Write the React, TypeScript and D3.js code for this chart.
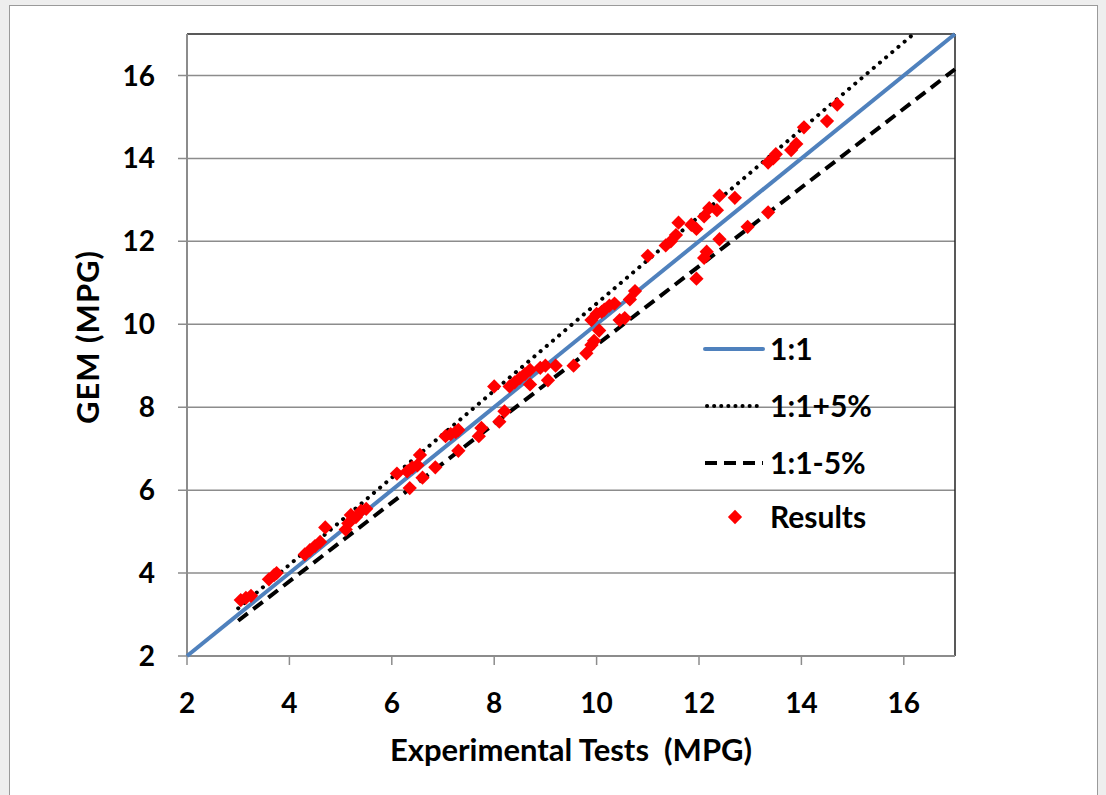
import React from "react";
import * as d3 from "d3";

// experimental (x) vs model (y), MPG
const expTests = [
  3.05, 3.15, 3.25, 3.6, 3.7, 3.75, 4.3, 4.4, 4.5, 4.6, 4.7,
  5.1, 5.15, 5.2, 5.3, 5.4, 5.5, 6.1, 6.3, 6.35, 6.4, 6.5, 6.55, 6.6, 6.85,
  7.05, 7.15, 7.25, 7.3, 7.3, 7.7, 7.75, 8.0, 8.1, 8.2, 8.3, 8.4, 8.5, 8.6,
  8.7, 8.7, 8.9, 9.0, 9.05, 9.2, 9.55, 9.8, 9.9, 9.95, 9.9, 10.0, 10.05,
  10.1, 10.15, 10.25, 10.35, 10.45, 10.55, 10.65, 10.75, 11.0, 11.35, 11.45,
  11.55, 11.6, 11.85, 11.95, 11.95, 12.1, 12.15, 12.1, 12.2, 12.35, 12.4,
  12.4, 12.7, 12.95, 13.35, 13.35, 13.45, 13.5, 13.8, 13.9, 14.05, 14.5, 14.7,
];
const gemResults = [
  3.35, 3.4, 3.45, 3.85, 3.95, 4.0, 4.45, 4.55, 4.65, 4.75, 5.1,
  5.05, 5.2, 5.4, 5.35, 5.5, 5.55, 6.4, 6.45, 6.05, 6.55, 6.6, 6.85, 6.3, 6.55,
  7.3, 7.35, 7.4, 7.45, 6.95, 7.3, 7.5, 8.5, 7.65, 7.9, 8.5, 8.6, 8.7, 8.8,
  8.9, 8.55, 8.95, 9.0, 8.65, 9.0, 9.0, 9.3, 9.5, 9.6, 10.1, 10.25, 9.85,
  10.3, 10.35, 10.45, 10.5, 10.1, 10.15, 10.6, 10.8, 11.65, 11.9, 12.0,
  12.15, 12.45, 12.4, 12.3, 11.1, 11.6, 11.75, 12.6, 12.8, 12.75, 13.1,
  12.05, 13.05, 12.35, 12.7, 13.9, 14.0, 14.1, 14.2, 14.35, 14.75, 14.9, 15.3,
];

const xTicks = [2, 4, 6, 8, 10, 12, 14, 16];
const yTicks = [2, 4, 6, 8, 10, 12, 14, 16];

const refLines = [
  { name: "1:1", x0: 2, x1: 17, k: 1, color: "#4f81bd", dash: "", cap: "butt" },
  { name: "1:1+5%", x0: 3, x1: 17 / 1.05, k: 1.05, color: "#000", dash: "0.1 8", cap: "round" },
  { name: "1:1-5%", x0: 3, x1: 17, k: 0.95, color: "#000", dash: "12 7", cap: "butt" },
];

const font = "Lato, 'Open Sans', sans-serif";

export default function App() {
  const left = 187, right = 955, top = 34, bottom = 656;
  const x = d3.scaleLinear().domain([2, 17]).range([left, right]);
  const y = d3.scaleLinear().domain([2, 17]).range([bottom, top]);
  const line = d3.line<[number, number]>().x((d) => x(d[0])).y((d) => y(d[1]));
  const points = expTests.map((v, i) => [v, gemResults[i]] as [number, number]);
  const diamond = d3.symbol().type(d3.symbolDiamond2).size(130)();

  const legendY = [349, 406, 463, 517];

  return (
    <svg width={1106} height={795} style={{ position: "absolute", left: 0, top: 0 }}>
      <rect x={0} y={0} width={1106} height={795} fill="#eeeeee" />
      <rect x={9.5} y={5.5} width={1088} height={800} fill="#fff" stroke="#9a9a9a" />
      {yTicks.map((t) => (
        <g key={"y" + t}>
          <line x1={left - 9} x2={right} y1={y(t)} y2={y(t)} stroke="#8c8c8c" strokeWidth={1.5} />
          <text x={155} y={y(t)} dy="0.36em" textAnchor="end" fontFamily={font} fontWeight="bold" fontSize={28}>
            {t}
          </text>
        </g>
      ))}
      {xTicks.map((t) => (
        <g key={"x" + t}>
          <line x1={x(t)} x2={x(t)} y1={bottom} y2={bottom + 9} stroke="#8c8c8c" strokeWidth={1.5} />
          <text x={x(t)} y={703} dy="0.36em" textAnchor="middle" fontFamily={font} fontWeight="bold" fontSize={28}>
            {t}
          </text>
        </g>
      ))}
      <line x1={left} x2={right} y1={top} y2={top} stroke="#222" strokeWidth={1.5} />
      <line x1={right} x2={right} y1={top} y2={bottom} stroke="#222" strokeWidth={1.5} />
      <line x1={left} x2={left} y1={top} y2={bottom} stroke="#8c8c8c" strokeWidth={2} />
      <line x1={left} x2={right} y1={bottom} y2={bottom} stroke="#8c8c8c" strokeWidth={2} />

      {refLines.map((l) => (
        <path
          key={l.name}
          d={line([[l.x0, l.x0 * l.k], [l.x1, l.x1 * l.k]]) || ""}
          fill="none"
          stroke={l.color}
          strokeWidth={4}
          strokeDasharray={l.dash}
          strokeLinecap={l.cap as any}
        />
      ))}
      {points.map((p, i) => (
        <path key={i} d={diamond || ""} transform={`translate(${x(p[0])},${y(p[1])})`} fill="#ff0000" />
      ))}

      {refLines.map((l, i) => (
        <g key={"lg" + l.name}>
          <line
            x1={l.dash === "0.1 8" ? 707 : 705}
            x2={763}
            y1={legendY[i]}
            y2={legendY[i]}
            stroke={l.color}
            strokeWidth={4}
            strokeDasharray={l.dash === "12 7" ? "12 7" : l.dash === "0.1 8" ? "0.1 7" : ""}
            strokeLinecap={(l.dash === "" ? "round" : l.cap) as any}
          />
          <text x={770} y={legendY[i]} dy="0.36em" fontFamily={font} fontWeight="bold" fontSize={30}>
            {l.name}
          </text>
        </g>
      ))}
      <path d={diamond || ""} transform={`translate(735,${legendY[3]})`} fill="#ff0000" />
      <text x={770} y={legendY[3]} dy="0.36em" fontFamily={font} fontWeight="bold" fontSize={30}>
        Results
      </text>

      <text
        transform={`translate(88,${(top + bottom) / 2 - 8}) rotate(-90)`}
        textAnchor="middle"
        dy="0.36em"
        fontFamily={font}
        fontWeight="bold"
        fontSize={31}
        letterSpacing={1}
      >
        GEM (MPG)
      </text>
      <text x={571} y={750} dy="0.36em" textAnchor="middle" fontFamily={font} fontWeight="bold" fontSize={31} style={{ whiteSpace: "pre" }}>
        {"Experimental Tests  (MPG)"}
      </text>
    </svg>
  );
}
